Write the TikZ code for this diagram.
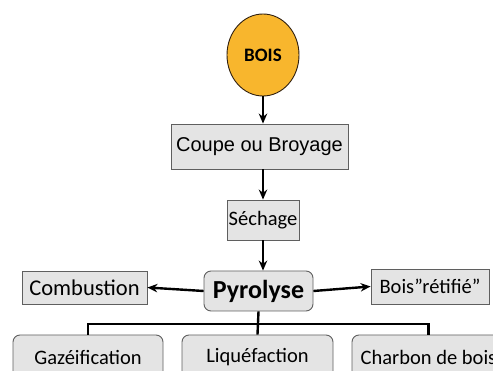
\documentclass[tikz,border=0pt]{standalone}
\usepackage{fontspec}
\setmainfont{Carlito}
\newfontfamily\arialfont{Liberation Sans}
\usetikzlibrary{shapes.geometric,arrows.meta}
\definecolor{woodorange}{HTML}{F8B62D}
\definecolor{boxgray}{HTML}{E4E4E4}
\definecolor{edgegray}{HTML}{5F5F5F}

\begin{document}
\begin{tikzpicture}[x=1pt,y=-1pt,
    stepbox/.style={draw=edgegray, fill=boxgray, line width=0.9pt, inner sep=0pt,
        font=\fontsize{20.5}{24}\selectfont},
    roundbox/.style={stepbox, rounded corners=7pt},
    flow/.style={-{Stealth[length=10pt,width=8.5pt]}, line width=2.4pt},
    tree/.style={line width=2.4pt}]
    \useasboundingbox (0,0) rectangle (493,371);
    \clip (0,0) rectangle (493,371);

    \node[ellipse, draw=black!75!brown, fill=woodorange, line width=0.9pt, minimum width=72, minimum height=82,
        inner sep=0pt, font=\fontsize{19}{22}\selectfont\bfseries] (bois) at (263,55) {BOIS};
    \node[stepbox, minimum width=177, minimum height=45, font=\arialfont\fontsize{20}{24}\selectfont] (coupe) at (259.5,146.5) {Coupe ou Broyage};
    \node[stepbox, minimum width=72, minimum height=40] (sechage) at (263,220) {Séchage};
    \node[roundbox, minimum width=109, minimum height=40, font=\fontsize{26}{30}\selectfont\bfseries] (pyro) at (258.5,291) {Pyrolyse};
    \node[stepbox, minimum width=125, minimum height=33, font=\fontsize{22.5}{26}\selectfont] (combu) at (84.5,287.5) {Combustion};
    \node[stepbox, minimum width=118, minimum height=35] (retifie) at (430,286.5) {Bois”rétifié”};
    \node[roundbox, minimum width=150, minimum height=44] (gaz) at (88,357) {Gazéification};
    \node[roundbox, minimum width=151, minimum height=44] (liq) at (257.5,357) {Liquéfaction};
    \node[roundbox, minimum width=153, minimum height=44] (charbon) at (428.5,357) {Charbon de bois};
    \coordinate (bus) at (0,324);

    \draw[flow] (bois) -- (bois |- coupe.north);
    \draw[flow] (coupe.south -| bois) -- (sechage);
    \draw[flow] (sechage.south) -- (sechage.south |- pyro.north);
    \draw[flow] (pyro.west) -- (combu.east);
    \draw[flow] (pyro.east) -- (retifie.west);
    \draw[tree] (pyro.south) -- (liq.north);
    \draw[tree] (gaz.north) -- (gaz.north |- bus) -- (charbon.north |- bus) -- (charbon.north);
\end{tikzpicture}
\end{document}
